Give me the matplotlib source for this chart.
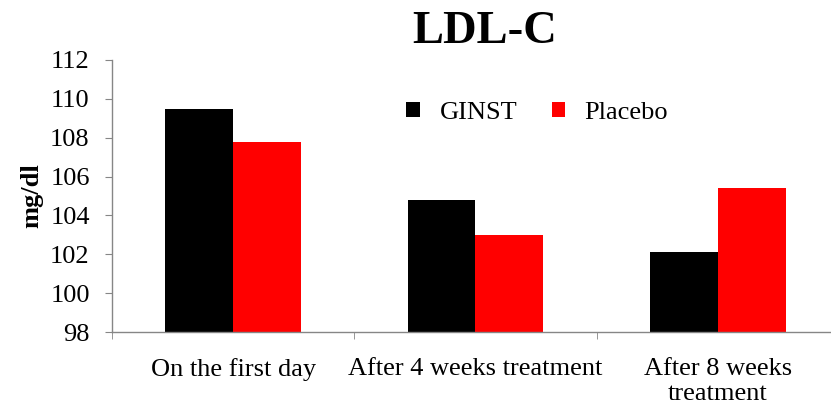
import numpy as np
import matplotlib
matplotlib.use("Agg")
import matplotlib.pyplot as plt
from matplotlib.ticker import FixedLocator

# === datos ===
categorias = ["On the first day", "After 4 weeks treatment", "After 8 weeks\ntreatment"]
ginst = [109.5, 104.8, 102.1]
placebo = [107.8, 103.0, 105.4]
y_ticks = [98, 100, 102, 104, 106, 108, 110, 112]

plt.rcParams["font.family"] = ["Liberation Serif", "DejaVu Serif"]
gris = "#868686"

fig = plt.figure(figsize=(8.31, 4.09), dpi=100)
ax = fig.add_axes([112 / 831, 1 - 332 / 409, 727 / 831, 272 / 409])

x = np.arange(len(categorias))
w = 0.28
ax.bar(x - w / 2, ginst, w, color="black", label="GINST")
ax.bar(x + w / 2, placebo, w, color="#ff0000", label="Placebo")

ax.set_xlim(-0.5, 2.5)
ax.set_ylim(98, 112)
ax.set_yticks(y_ticks)
ax.set_xticks(x)
ax.set_xticklabels(categorias)
ax.xaxis.set_minor_locator(FixedLocator([-0.5, 0.5, 1.5, 2.5]))

for s in ["top", "right"]:
    ax.spines[s].set_visible(False)
for s in ["left", "bottom"]:
    ax.spines[s].set_color(gris)
    ax.spines[s].set_linewidth(1)

ax.tick_params(axis="y", direction="out", length=5, color=gris, labelsize=19, pad=11)
ax.tick_params(axis="x", which="major", length=0, labelsize=19, pad=19)
ax.tick_params(axis="x", which="minor", direction="out", length=5, color=gris)
for lbl in ax.get_xticklabels():
    lbl.set_linespacing(1.15)

ax.set_ylabel("mg/dl", fontsize=19, fontweight="bold", labelpad=5)
fig.text(485 / 831, 1 - 32 / 409, "LDL-C", fontsize=33.5, fontweight="bold",
         ha="center", va="center")

ax.legend(loc="center", bbox_to_anchor=(0.585, 0.805), ncol=2, frameon=False,
          fontsize=19, handlelength=0.5, handleheight=0.5, handletextpad=0.75,
          columnspacing=1.3)

fig.savefig("out.png", dpi=100)
